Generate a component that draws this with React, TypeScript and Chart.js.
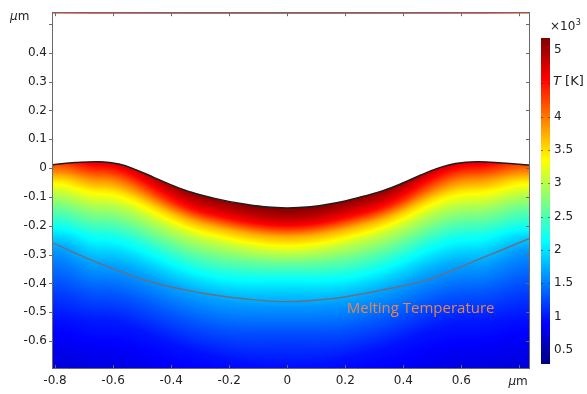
import React, { useEffect, useRef } from 'react';
import { Chart, registerables } from 'chart.js';
Chart.register(...registerables);

// ---- axes ----
const xTicks = [-0.8, -0.6, -0.4, -0.2, 0, 0.2, 0.4, 0.6, 0.8];
const yTicks = [-0.6, -0.5, -0.4, -0.3, -0.2, -0.1, 0, 0.1, 0.2, 0.3, 0.4, 0.5];
const xMin = -0.807;
const xMax = 0.833;
const yMin = -0.693;
const yMax = 0.537;

// ---- free surface (black line) ----
const surfaceX = [-0.807, -0.73, -0.645, -0.58, -0.52, -0.46, -0.4, -0.33, -0.25, -0.16, -0.08, 0, 0.08, 0.16, 0.25, 0.33, 0.4, 0.46, 0.52, 0.58, 0.655, 0.74, 0.833];
const surfaceY = [0.012, 0.019, 0.022, 0.014, -0.006, -0.032, -0.058, -0.084, -0.105, -0.123, -0.134, -0.138, -0.134, -0.122, -0.101, -0.078, -0.051, -0.024, 0.0, 0.016, 0.022, 0.018, 0.011];

// ---- melting temperature isotherm (gray line) ----
const meltX = [-0.807, -0.645, -0.472, -0.3, -0.15, 0, 0.16, 0.321, 0.493, 0.666, 0.833];
const meltY = [-0.26, -0.331, -0.394, -0.432, -0.453, -0.463, -0.452, -0.424, -0.384, -0.314, -0.245];

// ---- temperature field (x10^3 K) sampled vs depth below the surface ----
const stationX = [-0.807, -0.645, -0.27, 0, 0.27, 0.645, 0.833];
const depthLevels = [0, 0.03, 0.06, 0.1, 0.15, 0.2, 0.25, 0.3, 0.35, 0.45, 0.55, 0.75];
const tempEdge = [4.25, 3.85, 3.42, 3.05, 2.64, 2.3, 1.92, 1.62, 1.46, 1.18, 0.95, 0.66];
const tempPeak = [4.75, 4.35, 3.92, 3.45, 3.0, 2.62, 2.25, 1.96, 1.7, 1.33, 1.02, 0.7];
const tempSlope = [5.12, 4.85, 4.5, 3.7, 3.08, 2.66, 2.28, 1.95, 1.67, 1.3, 0.97, 0.72];
const tempCenter = [5.18, 4.95, 4.6, 3.75, 3.12, 2.55, 2.12, 1.84, 1.6, 1.22, 0.97, 0.72];
const stationProfiles = [tempEdge, tempPeak, tempSlope, tempCenter, tempSlope, tempPeak, tempEdge];

// ---- colour bar ----
const cbMin = 0.29;
const cbMax = 5.18;
const cbTicks = [0.5, 1, 1.5, 2, 2.5, 3, 3.5, 4, 4.5, 5];

const meltLabel = 'Melting Temperature';
const meltLabelX = 0.205;
const meltLabelY = -0.486;

const FONT = "'DejaVu Sans', sans-serif";

function monotone(xs: number[], ys: number[]) {
  const n = xs.length;
  const d: number[] = [];
  const m: number[] = [];
  for (let i = 0; i < n - 1; i++) d[i] = (ys[i + 1] - ys[i]) / (xs[i + 1] - xs[i]);
  m[0] = d[0];
  m[n - 1] = d[n - 2];
  for (let i = 1; i < n - 1; i++) m[i] = d[i - 1] * d[i] <= 0 ? 0 : (d[i - 1] + d[i]) / 2;
  for (let i = 0; i < n - 1; i++) {
    if (d[i] === 0) { m[i] = 0; m[i + 1] = 0; continue; }
    const a = m[i] / d[i], b = m[i + 1] / d[i];
    const s = a * a + b * b;
    if (s > 9) { const t = 3 / Math.sqrt(s); m[i] = t * a * d[i]; m[i + 1] = t * b * d[i]; }
  }
  return (x: number) => {
    if (x <= xs[0]) return ys[0];
    if (x >= xs[n - 1]) return ys[n - 1];
    let i = 0;
    while (i < n - 2 && x > xs[i + 1]) i++;
    const h = xs[i + 1] - xs[i];
    const t = (x - xs[i]) / h;
    const t2 = t * t, t3 = t2 * t;
    return (2 * t3 - 3 * t2 + 1) * ys[i] + (t3 - 2 * t2 + t) * h * m[i] + (-2 * t3 + 3 * t2) * ys[i + 1] + (t3 - t2) * h * m[i + 1];
  };
}

function lerpArr(xs: number[], ys: number[], x: number) {
  if (x <= xs[0]) return ys[0];
  const n = xs.length;
  if (x >= xs[n - 1]) return ys[n - 1];
  let i = 0;
  while (i < n - 2 && x > xs[i + 1]) i++;
  const t = (x - xs[i]) / (xs[i + 1] - xs[i]);
  return ys[i] + (ys[i + 1] - ys[i]) * t;
}

function tempAt(x: number, depth: number) {
  const d = Math.max(0, depth);
  let i = 0;
  const n = stationX.length;
  if (x <= stationX[0]) return lerpArr(depthLevels, stationProfiles[0], d);
  if (x >= stationX[n - 1]) return lerpArr(depthLevels, stationProfiles[n - 1], d);
  while (i < n - 2 && x > stationX[i + 1]) i++;
  let t = (x - stationX[i]) / (stationX[i + 1] - stationX[i]);
  t = t * t * (3 - 2 * t);
  const a = lerpArr(depthLevels, stationProfiles[i], d);
  const b = lerpArr(depthLevels, stationProfiles[i + 1], d);
  return a + (b - a) * t;
}

function jet(v: number): [number, number, number] {
  let t = (v - cbMin) / (cbMax - cbMin);
  t = Math.min(1, Math.max(0, t));
  const c = (q: number) => Math.round(255 * Math.min(1, Math.max(0, q)));
  return [c(1.5 - Math.abs(4 * t - 3)), c(1.5 - Math.abs(4 * t - 2)), c(1.5 - Math.abs(4 * t - 1))];
}

const surfaceFn = monotone(surfaceX, surfaceY);

const fieldPlugin = {
  id: 'field',
  beforeDatasetsDraw(chart: any) {
    const { ctx, chartArea, scales } = chart;
    const left = Math.round(chartArea.left), top = Math.round(chartArea.top);
    const w = Math.round(chartArea.right) - left, h = Math.round(chartArea.bottom) - top;
    const img = ctx.createImageData(w, h);
    for (let i = 0; i < w; i++) {
      const xv = scales.x.getValueForPixel(left + i + 0.5);
      const s = surfaceFn(xv);
      for (let j = 0; j < h; j++) {
        const yv = scales.y.getValueForPixel(top + j + 0.5);
        const [r, g, b] = jet(tempAt(xv, s - yv));
        const k = (j * w + i) * 4;
        img.data[k] = r; img.data[k + 1] = g; img.data[k + 2] = b; img.data[k + 3] = 255;
      }
    }
    ctx.putImageData(img, left, top);
  },
  afterDraw(chart: any) {
    const { ctx, chartArea, scales } = chart;
    const { left, top, right, bottom } = chartArea;
    ctx.save();
    ctx.strokeStyle = '#6a6a6a';
    ctx.lineWidth = 1;
    ctx.strokeRect(Math.round(left) - 0.5, Math.round(top) - 0.5, Math.round(right - left) + 1, Math.round(bottom - top) + 1);
    ctx.beginPath();
    for (const v of yTicks) {
      const p = Math.round(scales.y.getPixelForValue(v)) + 0.5;
      ctx.moveTo(left - 4, p); ctx.lineTo(left, p);
      ctx.moveTo(right - 3, p); ctx.lineTo(right, p);
    }
    for (const v of xTicks) {
      const p = Math.round(scales.x.getPixelForValue(v)) + 0.5;
      ctx.moveTo(p, bottom); ctx.lineTo(p, bottom - 3);
      ctx.moveTo(p, top); ctx.lineTo(p, top + 3);
    }
    ctx.stroke();

    // unit labels
    ctx.fillStyle = '#222';
    ctx.textBaseline = 'alphabetic';
    ctx.textAlign = 'left';
    const drawUnit = (x0: number, base: number) => {
      ctx.font = `italic 12px ${FONT}`;
      ctx.fillText('μ', x0, base);
      const w = ctx.measureText('μ').width;
      ctx.font = `12px ${FONT}`;
      ctx.fillText('m', x0 + w, base);
    };
    drawUnit(10, 19.5);
    drawUnit(scales.x.getPixelForValue(0.8) - 11, 384.5);

    // melting temperature label
    ctx.font = `15px 'Open Sans', sans-serif`;
    ctx.fillStyle = '#e8844c';
    ctx.textBaseline = 'middle';
    ctx.fillText(meltLabel, scales.x.getPixelForValue(meltLabelX), scales.y.getPixelForValue(meltLabelY));
    ctx.restore();
  },
};

const cbPlugin = {
  id: 'cbar',
  beforeDatasetsDraw(chart: any) {
    const { ctx, chartArea, scales } = chart;
    const { left, top, right, bottom } = chartArea;
    for (let py = Math.round(top); py < Math.round(bottom); py++) {
      const v = scales.y.getValueForPixel(py + 0.5);
      const [r, g, b] = jet(v);
      ctx.fillStyle = `rgb(${r},${g},${b})`;
      ctx.fillRect(left, py, right - left, 1);
    }
    ctx.save();
    ctx.strokeStyle = 'rgba(40,40,40,0.55)';
    ctx.lineWidth = 1;
    ctx.beginPath();
    for (const v of cbTicks) {
      const p = Math.round(scales.y.getPixelForValue(v)) + 0.5;
      ctx.moveTo(left, p); ctx.lineTo(left + 2, p);
      ctx.moveTo(right - 2, p); ctx.lineTo(right, p);
    }
    ctx.stroke();
    ctx.fillStyle = '#222';
    ctx.textAlign = 'left';
    ctx.textBaseline = 'alphabetic';
    ctx.font = `12px ${FONT}`;
    ctx.fillText('×10', 20, 30);
    const w = ctx.measureText('×10').width;
    ctx.font = `8px ${FONT}`;
    ctx.fillText('3', 20 + w + 0.5, 24.5);
    const base = scales.y.getPixelForValue(4.5) + 2;
    ctx.font = `italic 13px ${FONT}`;
    ctx.fillText('T', 23, base);
    const tw = ctx.measureText('T').width;
    ctx.font = `13px ${FONT}`;
    ctx.fillText(' [K]', 23 + tw, base);
    ctx.restore();
  },
};

export default function App() {
  const mainRef = useRef<HTMLCanvasElement>(null);
  const cbRef = useRef<HTMLCanvasElement>(null);

  useEffect(() => {
    const surfacePts = surfaceX.map((x, i) => ({ x, y: surfaceY[i] }));
    const meltPts = meltX.map((x, i) => ({ x, y: meltY[i] }));
    const main = new Chart(mainRef.current!, {
      type: 'scatter',
      data: {
        datasets: [
          {
            label: 'surface',
            data: surfacePts,
            showLine: true,
            borderColor: '#1e1e1e',
            borderWidth: 1.5,
            backgroundColor: '#ffffff',
            fill: 'end',
            pointRadius: 0,
            tension: 0.4,
          },
          {
            label: 'melt',
            data: meltPts,
            showLine: true,
            borderColor: '#6e6e7c',
            borderWidth: 1.4,
            fill: false,
            pointRadius: 0,
            tension: 0.4,
          },
        ],
      } as any,
      options: {
        responsive: false,
        animation: false,
        layout: { padding: { left: 0, right: 58, top: 12, bottom: 0 } },
        plugins: { legend: { display: false }, tooltip: { enabled: false } },
        scales: {
          x: {
            type: 'linear',
            min: xMin,
            max: xMax,
            afterBuildTicks: (s: any) => { s.ticks = xTicks.map((v) => ({ value: v })); },
            afterFit: (s: any) => { s.height = 26; },
            grid: { display: false, drawTicks: false },
            border: { display: false },
            ticks: {
              padding: 6,
              maxRotation: 0,
              autoSkip: false,
              color: '#222',
              font: { family: FONT, size: 12 },
              callback: (v: any) => (v === 0.8 ? '' : String(v)),
            },
          },
          y: {
            type: 'linear',
            min: yMin,
            max: yMax,
            afterBuildTicks: (s: any) => { s.ticks = yTicks.map((v) => ({ value: v })); },
            afterFit: (s: any) => { s.width = 53; },
            grid: { display: false, drawTicks: false },
            border: { display: false },
            ticks: {
              padding: 6,
              autoSkip: false,
              color: '#222',
              font: { family: FONT, size: 12 },
              callback: (v: any) => (v === 0.5 ? '' : String(v)),
            },
          },
        },
      } as any,
      plugins: [fieldPlugin],
    });

    const cb = new Chart(cbRef.current!, {
      type: 'scatter',
      data: { datasets: [] },
      options: {
        responsive: false,
        animation: false,
        layout: { padding: { left: 11, right: 0, top: 38, bottom: 30 } },
        plugins: { legend: { display: false }, tooltip: { enabled: false } },
        scales: {
          x: { display: false, min: 0, max: 1 },
          y: {
            type: 'linear',
            position: 'right',
            min: cbMin,
            max: cbMax,
            afterBuildTicks: (s: any) => { s.ticks = cbTicks.map((v) => ({ value: v })); },
            afterFit: (s: any) => { s.width = 37; },
            grid: { display: false, drawTicks: false },
            border: { display: false },
            ticks: {
              padding: 4,
              autoSkip: false,
              color: '#222',
              font: { family: FONT, size: 12 },
              callback: (v: any) => (v === 4.5 ? '' : String(v)),
            },
          },
        },
      } as any,
      plugins: [cbPlugin],
    });

    return () => {
      main.destroy();
      cb.destroy();
    };
  }, []);

  return (
    <div style={{ position: 'fixed', left: 0, top: 0, width: 587, height: 394, background: '#fff' }}>
      <canvas ref={mainRef} width={587} height={394} style={{ position: 'absolute', left: 0, top: 0 }} />
      <canvas ref={cbRef} width={57} height={394} style={{ position: 'absolute', left: 530, top: 0 }} />
    </div>
  );
}
